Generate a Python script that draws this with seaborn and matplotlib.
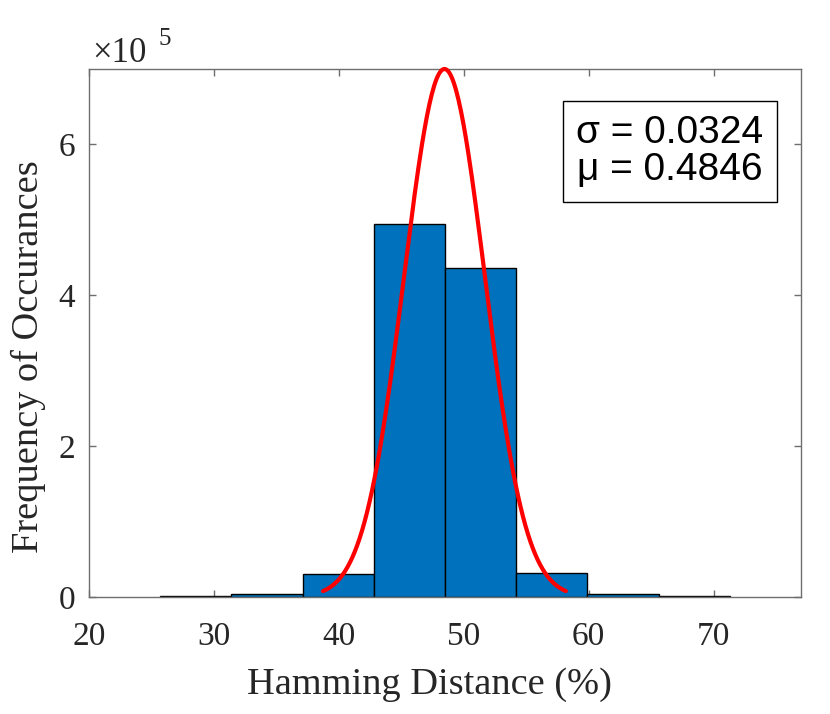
import numpy as np
import pandas as pd
import seaborn as sns
from matplotlib import pyplot as plt

# histogram bins (Hamming distance in %) and counts
bin_edges = [25.7, 31.4, 37.1, 42.8, 48.5, 54.2, 59.9, 65.6, 71.3]
bin_counts = [0.01e5, 0.045e5, 0.305e5, 4.94e5, 4.36e5, 0.32e5, 0.045e5, 0.01e5]

# fitted normal shown in the box
sigma = 0.0324
mu = 0.4846
peak = 7.0e5

sns.set_theme(style='white')
plt.rcParams['font.family'] = ['Liberation Serif', 'DejaVu Serif']

centers = [(a + b) / 2 for a, b in zip(bin_edges[:-1], bin_edges[1:])]
df = pd.DataFrame({'hd': centers, 'count': bin_counts})

xs = np.linspace(100 * (mu - 3 * sigma), 100 * (mu + 3 * sigma), 200)
fit = pd.DataFrame({'hd': xs,
                    'y': peak * np.exp(-0.5 * ((xs - 100 * mu) / (100 * sigma)) ** 2)})

fig = plt.figure(figsize=(8.3, 7.14), dpi=100)
ax = fig.add_axes([0.1072, 0.1639, 0.8578, 0.7395])

sns.histplot(data=df, x='hd', weights='count', bins=bin_edges, ax=ax,
             color='#0072BD', alpha=1, edgecolor='black', linewidth=1)
sns.lineplot(data=fit, x='hd', y='y', ax=ax, color='red', linewidth=3,
             clip_on=False, zorder=5)

ax.set_xlim(20, 77)
ax.set_ylim(0, 7e5)
ax.set_xticks([20, 30, 40, 50, 60, 70])
ax.set_yticks([0, 2e5, 4e5, 6e5])
ax.set_yticklabels(['0', '2', '4', '6'])

grey = '#262626'
for s in ax.spines.values():
    s.set_visible(True)
    s.set_color('#6e6e6e')
    s.set_linewidth(1)
ax.tick_params(direction='in', length=5, width=1, color='#6e6e6e',
               top=True, right=True, bottom=True, left=True,
               labelsize=24, labelcolor=grey)
ax.tick_params(axis='x', pad=18)
ax.tick_params(axis='y', pad=10)

ax.set_xlabel('Hamming Distance (%)', fontsize=27.6, color=grey)
ax.set_ylabel('Frequency of Occurances', fontsize=27.6, color=grey)
ax.xaxis.set_label_coords(0.4775, -0.133)
ax.yaxis.set_label_coords(-0.06, 0.456)

ax.text(0.005, 1.013, '×10', transform=ax.transAxes,
        fontsize=25, color=grey, ha='left', va='baseline')
ax.text(0.097, 1.045, '5', transform=ax.transAxes,
        fontsize=18, color=grey, ha='left', va='baseline')

ax.text(0.816, 0.844, 'σ = 0.0324\nμ = 0.4846', transform=ax.transAxes,
        family=['Liberation Sans', 'DejaVu Sans'], fontsize=28, color='black',
        ha='center', va='center', linespacing=1.05,
        bbox=dict(boxstyle='square,pad=0.35', facecolor='white',
                  edgecolor='black', linewidth=1))

fig.savefig('out.png', dpi=100)
